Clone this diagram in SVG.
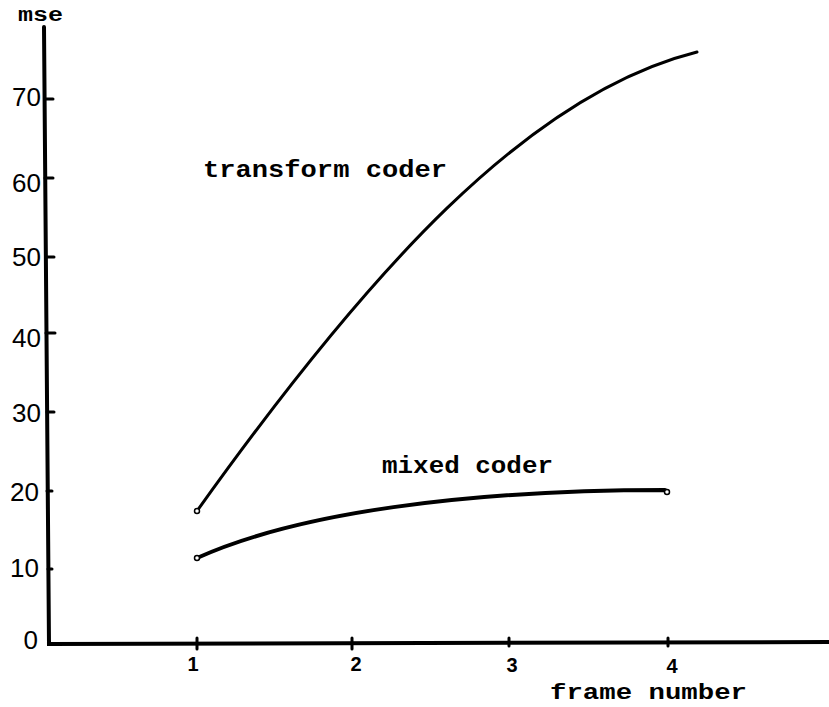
<svg xmlns="http://www.w3.org/2000/svg" width="829" height="707" viewBox="0 0 829 707">
  <style>
    .axis { fill: none; stroke: #000; stroke-width: 4; stroke-linecap: round; }
    .tick { fill: none; stroke: #000; stroke-width: 3; stroke-linecap: round; }
    .curve { fill: none; stroke: #000; stroke-linecap: round; stroke-linejoin: round; }
    .ylab { font-family: "Liberation Sans", Arial, sans-serif; font-size: 26px; fill: #000; text-anchor: end; }
    .xlab { font-family: "Liberation Sans", Arial, sans-serif; font-size: 20px; font-weight: bold; fill: #000; text-anchor: middle; }
    .tw { font-family: "Liberation Mono", "Courier New", monospace; font-weight: bold; fill: #000; }
    .pt { fill: #fff; stroke: #000; stroke-width: 1.5; }
  </style>
  <rect width="829" height="707" fill="#fff"/>

  <!-- axes -->
  <g id="axes">
    <path class="axis" d="M44,27 L49,644 L829,642"/>
    <!-- y ticks -->
    <path class="tick" d="M45,99 H53 M45,178 H53 M46,257 H54 M46,333 H55 M47,412 H54 M47,491 H52 M48,569 H52"/>
    <!-- x ticks -->
    <path class="tick" d="M197,638 V649 M352,638 V649 M509,638 V646 M668,638 V646"/>
  </g>

  <g id="y-labels">
    <text class="tw" x="18" y="21" font-size="20" textLength="45" lengthAdjust="spacingAndGlyphs">mse</text>
    <text class="ylab" x="41" y="106">70</text>
    <text class="ylab" x="41" y="192">60</text>
    <text class="ylab" x="41" y="266">50</text>
    <text class="ylab" x="41" y="347">40</text>
    <text class="ylab" x="41" y="422">30</text>
    <text class="ylab" x="39" y="501">20</text>
    <text class="ylab" x="39" y="577">10</text>
    <text class="ylab" x="38" y="649">0</text>
  </g>

  <g id="x-labels">
    <text class="xlab" x="193" y="671">1</text>
    <text class="xlab" x="356" y="671">2</text>
    <text class="xlab" x="512" y="672">3</text>
    <text class="xlab" x="672" y="673">4</text>
    <text class="tw" x="550" y="699" font-size="22" textLength="197" lengthAdjust="spacingAndGlyphs">frame number</text>
  </g>

  <!-- data curves -->
  <g id="connectors">
    <path id="transform-curve" class="curve" stroke-width="3"
      d="M197,511 C367,273 527,94.5 697,52"/>
    <path id="mixed-curve" class="curve" stroke-width="4"
      d="M197,558 C297,513 465,490 665,490 L667,492"/>
    <circle class="pt" cx="197" cy="511" r="2.5"/>
    <circle class="pt" cx="197" cy="558" r="2.5"/>
    <circle class="pt" cx="667" cy="492" r="2.5"/>
  </g>

  <g id="curve-labels">
    <text class="tw" x="203" y="177" font-size="24" textLength="244" lengthAdjust="spacingAndGlyphs">transform coder</text>
    <text class="tw" x="382" y="473" font-size="24" textLength="171" lengthAdjust="spacingAndGlyphs">mixed coder</text>
  </g>
</svg>
